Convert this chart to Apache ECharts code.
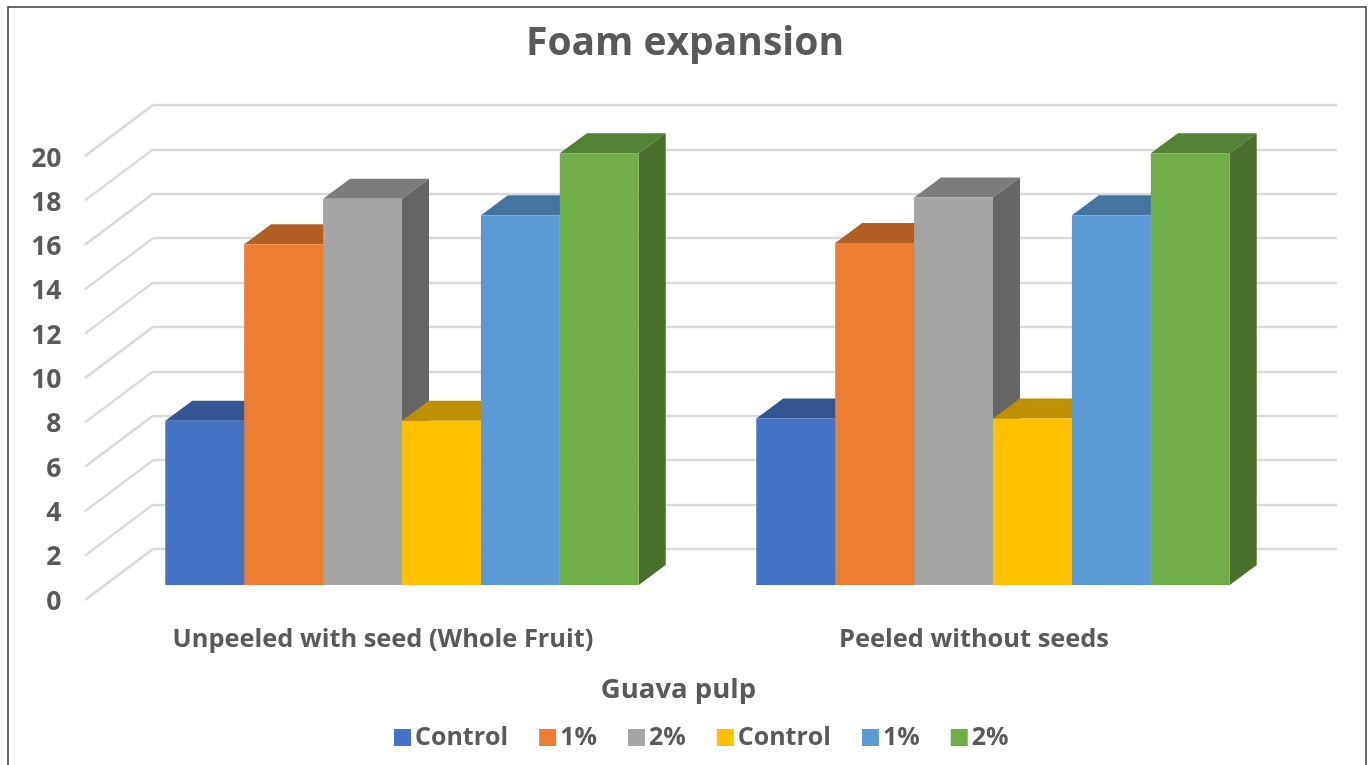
<!DOCTYPE html>
<html>
<head>
<meta charset="utf-8">
<title>Foam expansion</title>
<style>
  html, body { margin: 0; padding: 0; background: #fff; }
  #chart { width: 1368px; height: 765px; }
</style>
<script src="https://cdn.jsdelivr.net/npm/echarts@6/dist/echarts.min.js"></script>
</head>
<body>
<div id="chart"></div>
<script>
const categories = ['Unpeeled with seed (Whole Fruit)', 'Peeled without seeds'];
const seriesNames = ['Control', '1%', '2%', 'Control ', '1% ', '2% '];
const control1 = [7.4, 7.5];
const onePercent1 = [15.35, 15.4];
const twoPercent1 = [17.4, 17.45];
const control2 = [7.4, 7.5];
const onePercent2 = [16.65, 16.65];
const twoPercent2 = [19.45, 19.45];
const tickValues = [0, 2, 4, 6, 8, 10, 12, 14, 16, 18, 20];

const seriesValues = [control1, onePercent1, twoPercent1, control2, onePercent2, twoPercent2];
const faceColors = ['#4472C4', '#ED7D31', '#A5A5A5', '#FFC000', '#5B9BD5', '#70AD47'];
const topColors = ['#335593', '#B25E25', '#7C7C7C', '#BF9000', '#4474A0', '#548235'];
const sideColors = ['#2A4679', '#8E4B1E', '#666666', '#9C7600', '#38608A', '#4A6E2C'];

const textColor = '#595959';
const font = '"Open Sans", sans-serif';
const depthX = 27, depthY = 20;      // bar depth in the oblique projection
const wallX = 68, wallY = 51;        // side wall depth

// One oblique box: front face, top face and right side face.
function renderBar(seriesIdx) {
  return function (params, api) {
    const band = api.size([1, 0])[0];
    const w = band / 7.49;
    const base = api.coord([api.value(0), 0]);
    const top = api.coord([api.value(0), api.value(1)]);
    const x0 = base[0] + (seriesIdx - 3) * w;
    const x1 = x0 + w;
    const yb = base[1], yt = top[1];
    return {
      type: 'group',
      children: [
        { type: 'polygon', shape: { points: [[x0, yt], [x1, yt], [x1 + depthX, yt - depthY], [x0 + depthX, yt - depthY]] },
          style: { fill: topColors[seriesIdx] } },
        { type: 'polygon', shape: { points: [[x1, yb], [x1 + depthX, yb - depthY], [x1 + depthX, yt - depthY], [x1, yt]] },
          style: { fill: sideColors[seriesIdx] } },
        { type: 'rect', shape: { x: x0, y: yt, width: w, height: yb - yt },
          style: { fill: faceColors[seriesIdx] } }
      ]
    };
  };
}

// Diagonal grid line along the left wall, leading off each back-wall gridline.
function renderWallLine(params, api) {
  const cs = params.coordSys;
  const y = api.coord([0, api.value(1)])[1];
  return {
    type: 'line',
    shape: { x1: cs.x, y1: y, x2: cs.x - wallX, y2: y + wallY },
    style: { stroke: '#DADADA', lineWidth: 2.4 }
  };
}

const barSeries = seriesNames.map((name, i) => ({
  name,
  type: 'custom',
  xAxisIndex: 2,
  yAxisIndex: 2,
  z: 5,
  itemStyle: { color: faceColors[i] },
  encode: { x: 0, y: 1 },
  data: categories.map((c, k) => [k, seriesValues[i][k]]),
  renderItem: renderBar(i),
  clip: false
}));

const option = {
  animation: false,
  backgroundColor: '#fff',
  title: {
    text: 'Foam expansion',
    left: 680,
    top: 19,
    textAlign: 'center',
    textStyle: { color: textColor, fontFamily: font, fontWeight: 'bold', fontSize: 39 }
  },
  legend: {
    left: 389,
    top: 720,
    itemWidth: 17,
    itemHeight: 17,
    itemGap: 31,
    icon: 'rect',
    data: seriesNames,
    formatter: name => name.trim(),
    textStyle: { color: textColor, fontFamily: font, fontWeight: 'bold', fontSize: 25, padding: [0, 0, 0, -1] }
  },
  grid: [
    { left: 153, top: 105, width: 1184, height: 444 },   // back wall
    { left: 87.5, top: 159, width: 1182, height: 443 },  // front plane, carries the labels
    { left: 106.5, top: 141, width: 1182, height: 444 }  // plane of the bars
  ],
  xAxis: [
    { gridIndex: 0, type: 'category', data: categories, show: false },
    {
      gridIndex: 1, type: 'category', data: categories,
      axisLine: { show: false }, axisTick: { show: false },
      axisLabel: { color: textColor, fontFamily: font, fontWeight: 'bold', fontSize: 25.4, margin: 25 },
      name: 'Guava pulp',
      nameLocation: 'middle',
      nameGap: 74,
      nameTextStyle: { color: textColor, fontFamily: font, fontWeight: 'bold', fontSize: 27.5 }
    },
    { gridIndex: 2, type: 'category', data: categories, show: false }
  ],
  yAxis: [
    {
      gridIndex: 0, type: 'value', min: 0, max: 20, interval: 2,
      axisLabel: { show: false }, axisLine: { show: false }, axisTick: { show: false },
      splitLine: { show: true, lineStyle: { color: '#DADADA', width: 2.4 } }
    },
    {
      gridIndex: 1, type: 'value', min: 0, max: 20, interval: 2,
      axisLine: { show: false }, axisTick: { show: false }, splitLine: { show: false },
      axisLabel: { color: textColor, fontFamily: font, fontWeight: 'bold', fontSize: 26.5, margin: 26 }
    },
    {
      gridIndex: 2, type: 'value', min: 0, max: 20, interval: 2,
      show: false, splitLine: { show: false }
    }
  ],
  series: [
    {
      type: 'custom',
      xAxisIndex: 0,
      yAxisIndex: 0,
      z: 1,
      silent: true,
      encode: { x: 0, y: 1 },
      data: tickValues.map(v => [0, v]),
      renderItem: renderWallLine,
      clip: false
    }
  ].concat(barSeries),
  graphic: [
    {
      type: 'rect',
      silent: true,
      shape: { x: 8, y: 7, width: 1358, height: 780 },
      style: { fill: 'transparent', stroke: '#3A3A3A', lineWidth: 1.5 }
    }
  ]
};

echarts.init(document.getElementById('chart')).setOption(option);
</script>
</body>
</html>
